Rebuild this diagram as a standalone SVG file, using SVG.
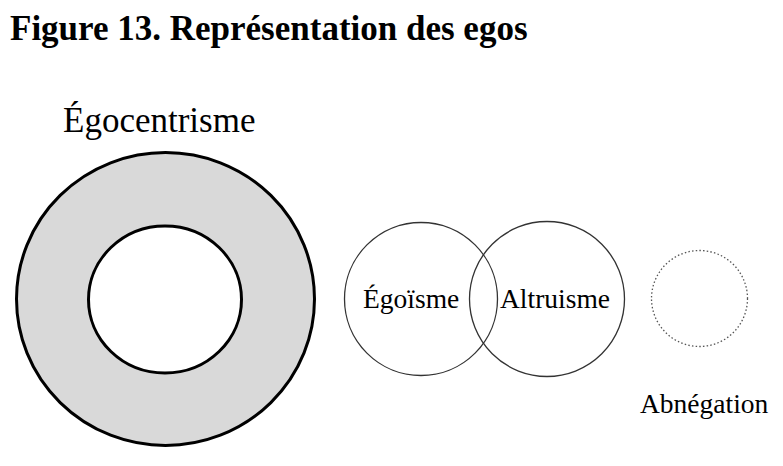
<svg xmlns="http://www.w3.org/2000/svg" width="783" height="466" viewBox="0 0 783 466">
<style>
.ring{stroke:#000;stroke-width:3}
.venn{fill:none;stroke:#333;stroke-width:1.3}
.dot{fill:none;stroke:#555;stroke-width:1.3;stroke-dasharray:1.5 2.2}
</style>
<rect width="783" height="466" fill="#fff"/>
<text x="10" y="40" font-family="Liberation Serif, serif" font-size="35" font-weight="bold" fill="#000">Figure 13. Représentation des egos</text>
<g id="egocentrisme">
<ellipse class="ring" cx="165.5" cy="299" rx="149" ry="146.5" fill="#d9d9d9"/>
<ellipse class="ring" cx="165" cy="299.5" rx="76.5" ry="73.5" fill="#fff"/>
<text x="63" y="132" font-family="Liberation Serif, serif" font-size="35" fill="#000">Égocentrisme</text>
</g>
<g id="egoisme">
<circle class="venn" cx="421" cy="299" r="76.5"/>
<text x="363" y="308" font-family="Liberation Serif, serif" font-size="27.5" fill="#000">Égoïsme</text>
</g>
<g id="altruisme">
<circle class="venn" cx="547" cy="299" r="77.5"/>
<text x="500" y="308" font-family="Liberation Serif, serif" font-size="27.5" fill="#000">Altruisme</text>
</g>
<g id="abnegation">
<circle class="dot" cx="699.5" cy="298.5" r="48"/>
<text x="640" y="413" font-family="Liberation Serif, serif" font-size="27.5" fill="#000">Abnégation</text>
</g>
<g id="connectors"/>
</svg>
